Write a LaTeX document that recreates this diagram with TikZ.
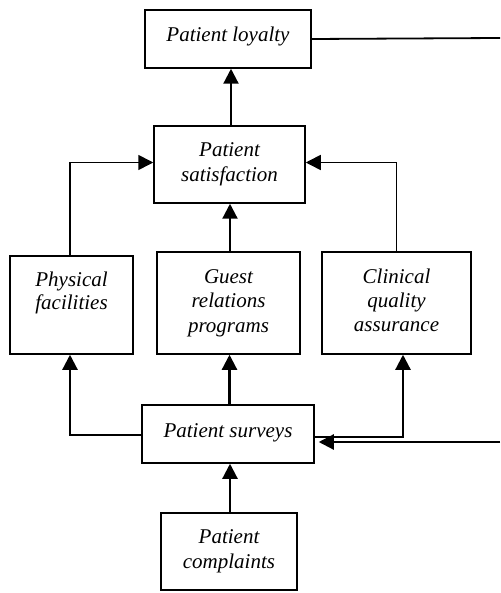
\documentclass[tikz,border=0pt]{standalone}
\usepackage{fontspec}
\setmainfont{Liberation Serif}
\usetikzlibrary{arrows.meta}
\begin{document}
\begin{tikzpicture}[x=1pt,y=-1pt,
  box/.style={draw, line width=1.5pt, rectangle, align=center, inner sep=0pt,
    font=\fontsize{21}{24.5}\selectfont\itshape},
  arr/.style={line width=2.2pt, -{Triangle[width=15pt,length=15pt]}},
  thinarr/.style={line width=1.6pt, -{Triangle[width=15pt,length=15pt]}},
  plain/.style={line width=1.8pt}]
\useasboundingbox (0,0) rectangle (500,593);
\node[box, minimum width=166pt, minimum height=58pt] (loyal) at (228,39) {\raisebox{9pt}{Patient loyalty}};
\node[box, minimum width=151pt, minimum height=77pt] (satis) at (229.5,164.5) {Patient\\satisfaction};
\node[box, minimum width=123pt, minimum height=98pt] (phys) at (71.5,305) {\raisebox{6.5pt}[0pt][0pt]{\begin{tabular}{@{}c@{}}Physical\\[-1pt]facilities\end{tabular}}};
\node[box, minimum width=143pt, minimum height=102pt] (guest) at (228.5,303) {Guest\\relations\\programs};
\node[box, minimum width=149pt, minimum height=102pt] (clin) at (396.5,303) {\raisebox{3pt}{\begin{tabular}{@{}c@{}}Clinical\\[-0.5pt]quality\\[-0.5pt]assurance\end{tabular}}};
\node[box, minimum width=172pt, minimum height=58pt] (surv) at (228,434) {\raisebox{6pt}{Patient surveys}};
\node[box, minimum width=136pt, minimum height=77pt] (compl) at (229,551.5) {Patient\\complaints};
\coordinate (lout) at (500,38);
\coordinate (fbin) at (500,442);
% connectors
\draw[arr] ([xshift=1.5pt]satis.north) -- ([xshift=1.5pt]satis.north |- loyal.south);
\draw[thinarr] ([xshift=-1.5pt]phys.north) |- ([yshift=2pt]satis.west);
\draw[thinarr] (clin.north) |- ([yshift=2pt]satis.east);
\draw[arr] ([xshift=1.5pt]guest.north) -- ([xshift=1.5pt]guest.north |- satis.south);
\draw[arr] ([yshift=-1pt]surv.west) -| ([xshift=-1.5pt]phys.south);
\draw[arr] ([xshift=1.5pt]surv.north) -- ([xshift=1.5pt]surv.north |- guest.south);
\draw[arr] ([yshift=-3pt]surv.east) -| ([xshift=6.5pt]clin.south);
\draw[arr] ([xshift=1pt]compl.north) -- ([xshift=1pt]compl.north |- surv.south);
\draw[plain] (loyal.east) -- (lout);
\draw[arr] (fbin) -- ([xshift=4pt]fbin -| surv.east);
\end{tikzpicture}
\end{document}
